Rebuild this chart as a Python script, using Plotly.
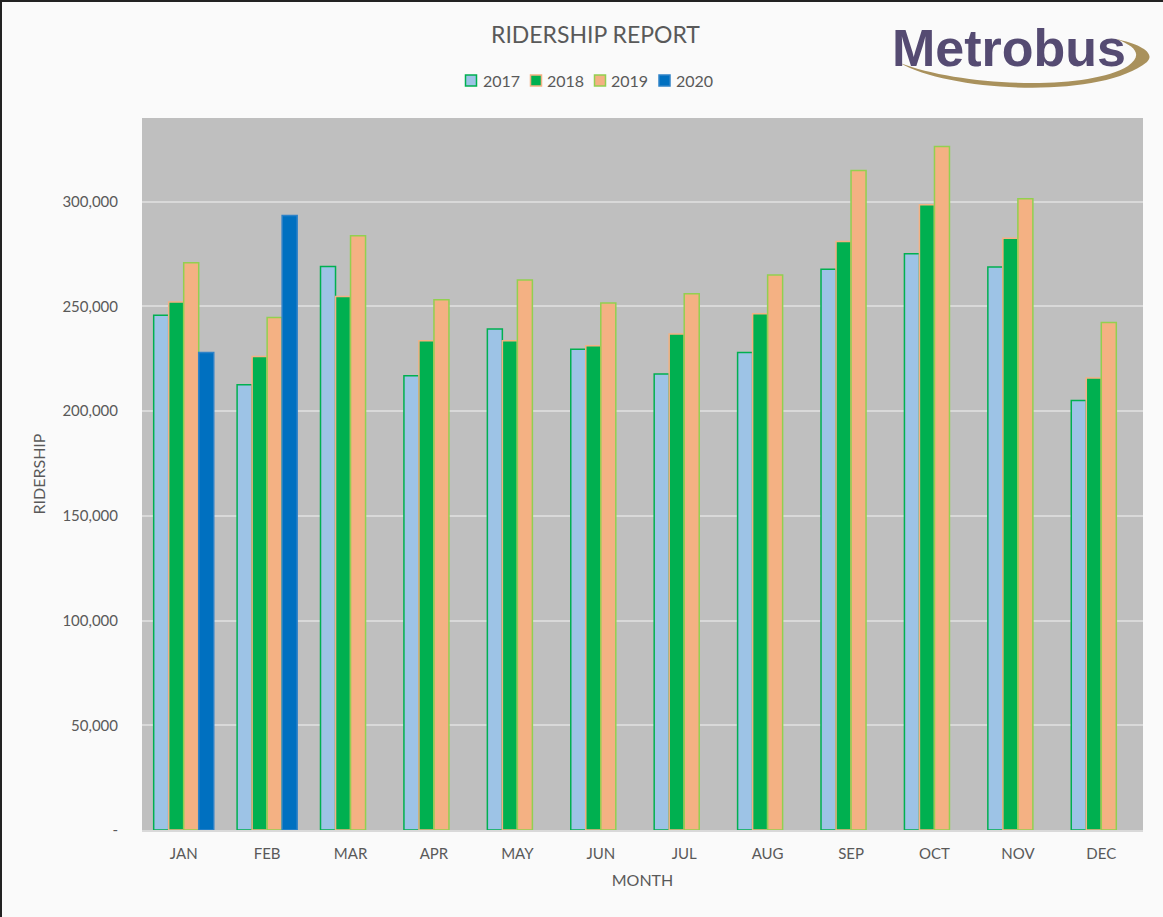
import plotly.graph_objects as go

months = ["JAN", "FEB", "MAR", "APR", "MAY", "JUN", "JUL", "AUG", "SEP", "OCT", "NOV", "DEC"]
r2017 = [245800, 212600, 269100, 216900, 239300, 229600, 217700, 228000, 267800, 275200, 268800, 205100]
r2018 = [252100, 226100, 254800, 233600, 233600, 231200, 236800, 246500, 281000, 298600, 282600, 215800]
r2019 = [270900, 244700, 283800, 253200, 262700, 251600, 256100, 265000, 314900, 326400, 301400, 242400]
r2020 = [228000, 293500]
yticks = [0, 50000, 100000, 150000, 200000, 250000, 300000]
ytick_text = ["-", "50,000", "100,000", "150,000", "200,000", "250,000", "300,000"]

W, H = 1163, 917
L, R, T, B = 142, 20, 118, 87
PW, PH = W - L - R, H - T - B

def px(x):
    return (x - L) / PW

def py(y):
    return (H - B - y) / PH

FONT = "Lato, 'Open Sans', sans-serif"
TXT = "#595959"

fig = go.Figure()
styles = [
    ("2017", r2017, "#9DC3E6", "#00B050"),
    ("2018", r2018, "#00B050", "#F4B183"),
    ("2019", r2019, "#F4B183", "#92D050"),
    ("2020", r2020, "#0070C0", "#2E82C8"),
]
for name, vals, fill, line in styles:
    fig.add_trace(go.Bar(
        name=name, x=months[:len(vals)], y=vals, showlegend=False,
        marker=dict(color=fill, line=dict(color=line, width=1.5)),
    ))

# Legend drawn as text + swatches (tight Excel-style spacing)
legend_sym_x = [465.5, 530.5, 594.5, 659]
legend_txt_x = [481, 545, 609, 674]
for (name, _, fill, line), sx, tx in zip(styles, legend_sym_x, legend_txt_x):
    fig.add_shape(type="rect", xref="paper", yref="paper",
                  x0=px(sx), x1=px(sx + 11), y0=py(86), y1=py(75),
                  fillcolor=fill, line=dict(color=line, width=1.5))
    fig.add_annotation(text=name, xref="paper", yref="paper",
                       x=px(tx), y=py(80.5), xanchor="left", yanchor="middle",
                       showarrow=False, font=dict(size=16, color=TXT, family=FONT))

fig.update_layout(
    width=W, height=H,
    margin=dict(l=L, r=R, t=T, b=B),
    paper_bgcolor="#FAFAFA",
    plot_bgcolor="#BFBFBF",
    barmode="group",
    bargap=0.28,
    bargroupgap=0,
    font=dict(family=FONT, color=TXT, size=15),
    title=dict(text="RIDERSHIP REPORT", x=0.512, xref="container", xanchor="center",
               y=1 - 35 / H, yref="container", yanchor="middle",
               font=dict(size=23, color=TXT, family=FONT)),
    showlegend=False,
)
fig.update_xaxes(
    categoryorder="array", categoryarray=months,
    showgrid=False, showline=True, linecolor="#D9D9D9", linewidth=2,
    ticks="outside", ticklen=9, tickcolor="rgba(0,0,0,0)",
    tickfont=dict(size=15, color=TXT),
    title=dict(text="MONTH", font=dict(size=16, color=TXT), standoff=14),
)
fig.update_yaxes(
    range=[0, 340000], tickvals=yticks, ticktext=ytick_text,
    showgrid=True, gridcolor="#D9D9D9", gridwidth=1.5,
    zeroline=False, showline=False,
    ticks="outside", ticklen=20, tickcolor="rgba(0,0,0,0)",
    tickfont=dict(size=15, color=TXT),
    title=dict(text="RIDERSHIP", font=dict(size=16, color=TXT), standoff=12),
)

# Metrobus logo
fig.add_annotation(
    text="<b>Metrobus</b>", xref="paper", yref="paper",
    x=px(1009), y=py(48), xanchor="center", yanchor="middle",
    showarrow=False, font=dict(family="Liberation Sans, Arial, sans-serif", size=52, color="#554B72"),
)

def pt(x, y):
    return f"{px(x):.5f},{py(y):.5f}"

swoosh = (
    f"M {pt(900, 63)} "
    f"C {pt(950, 92)} {pt(1100, 100)} {pt(1147, 62)} "
    f"C {pt(1156, 53)} {pt(1140, 44)} {pt(1116, 39)} "
    f"C {pt(1138, 47)} {pt(1142, 56)} {pt(1128, 66)} "
    f"C {pt(1085, 92)} {pt(960, 86)} {pt(900, 63)} Z"
)
fig.add_shape(type="path", path=swoosh, xref="paper", yref="paper",
              fillcolor="#A9915C", line=dict(width=0), layer="above")

# Outer frame
fig.add_shape(type="rect", xref="paper", yref="paper",
              x0=px(1), y0=py(1), x1=px(W + 5), y1=py(H + 5),
              line=dict(color="#222222", width=2), fillcolor="rgba(0,0,0,0)")

fig.write_html("out.html", config={"displayModeBar": False},
               post_script="document.body.style.margin='0';document.body.style.overflow='hidden';")
